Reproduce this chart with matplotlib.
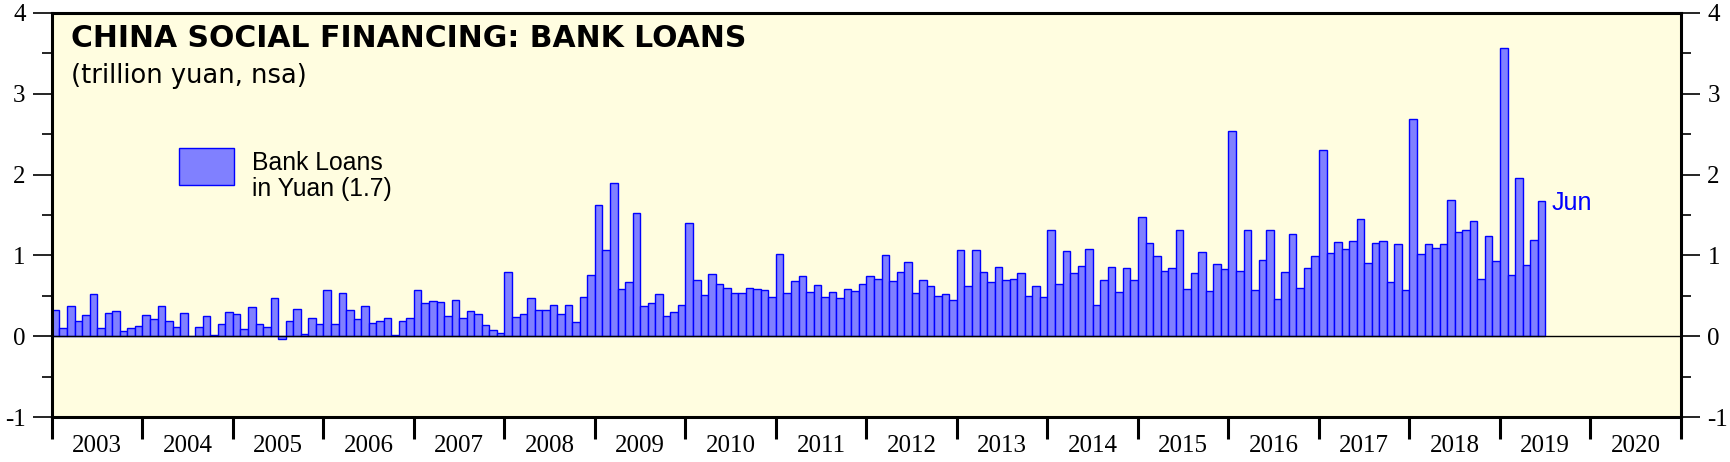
import numpy as np
import matplotlib
matplotlib.use('Agg')
import matplotlib.pyplot as plt
from matplotlib.patches import Rectangle
from matplotlib.ticker import MultipleLocator, FixedLocator, NullFormatter

# monthly bank loans, trillion yuan (nsa), Jan..Dec
loans_2003 = [0.33, 0.10, 0.37, 0.19, 0.26, 0.52, 0.10, 0.29, 0.31, 0.06, 0.10, 0.13]
loans_2004 = [0.26, 0.21, 0.37, 0.19, 0.11, 0.29, 0.00, 0.11, 0.25, 0.02, 0.15, 0.30]
loans_2005 = [0.28, 0.095, 0.36, 0.145, 0.11, 0.47, -0.04, 0.19, 0.34, 0.025, 0.22, 0.15]
loans_2006 = [0.57, 0.15, 0.54, 0.32, 0.21, 0.37, 0.16, 0.19, 0.22, 0.02, 0.19, 0.22]
loans_2007 = [0.57, 0.41, 0.44, 0.42, 0.25, 0.45, 0.23, 0.31, 0.28, 0.14, 0.08, 0.04]
loans_2008 = [0.80, 0.24, 0.28, 0.47, 0.32, 0.33, 0.38, 0.27, 0.38, 0.18, 0.48, 0.76]
loans_2009 = [1.62, 1.07, 1.89, 0.59, 0.665, 1.53, 0.37, 0.41, 0.52, 0.25, 0.30, 0.38]
loans_2010 = [1.40, 0.70, 0.51, 0.77, 0.65, 0.60, 0.53, 0.54, 0.60, 0.59, 0.57, 0.48]
loans_2011 = [1.02, 0.54, 0.68, 0.74, 0.55, 0.63, 0.49, 0.545, 0.47, 0.59, 0.56, 0.64]
loans_2012 = [0.74, 0.71, 1.01, 0.68, 0.79, 0.92, 0.54, 0.70, 0.62, 0.50, 0.52, 0.45]
loans_2013 = [1.07, 0.62, 1.07, 0.79, 0.665, 0.86, 0.70, 0.71, 0.785, 0.50, 0.62, 0.48]
loans_2014 = [1.32, 0.64, 1.05, 0.78, 0.87, 1.08, 0.385, 0.70, 0.855, 0.545, 0.85, 0.69]
loans_2015 = [1.475, 1.15, 0.995, 0.81, 0.85, 1.32, 0.59, 0.78, 1.04, 0.56, 0.89, 0.83]
loans_2016 = [2.54, 0.81, 1.32, 0.57, 0.94, 1.31, 0.455, 0.80, 1.26, 0.60, 0.84, 0.995]
loans_2017 = [2.31, 1.03, 1.16, 1.08, 1.18, 1.45, 0.91, 1.15, 1.18, 0.665, 1.14, 0.575]
loans_2018 = [2.69, 1.02, 1.145, 1.095, 1.14, 1.68, 1.285, 1.31, 1.43, 0.71, 1.235, 0.925]
loans_2019 = [3.57, 0.76, 1.96, 0.875, 1.19, 1.67]

loans = np.concatenate([loans_2003, loans_2004, loans_2005, loans_2006, loans_2007,
                        loans_2008, loans_2009, loans_2010, loans_2011, loans_2012,
                        loans_2013, loans_2014, loans_2015, loans_2016, loans_2017,
                        loans_2018, loans_2019])
first_year = 2003
last_year = 2020
year_labels = [str(y) for y in range(first_year, last_year + 1)]
month_pos = first_year + (np.arange(len(loans)) + 0.5) / 12.0

plt.rcParams['axes.unicode_minus'] = False
sans = 'Liberation Sans'
wide = 'DejaVu Sans'
serif = 'Liberation Serif'
fill_col = '#8080ff'
edge_col = '#0000ff'

fig = plt.figure(figsize=(17.31, 4.62), dpi=100)
ax = fig.add_axes([0.0300, 0.0974, 0.9411, 0.8745])
ax.set_facecolor('#fffde0')

ax.bar(month_pos, loans, width=1 / 12.0, color=fill_col, edgecolor=edge_col,
       linewidth=1.0, zorder=2)
ax.axhline(0, color='black', lw=1.0, zorder=3)

ax.set_xlim(first_year, last_year + 1)
ax.set_ylim(-1, 4)

# y axis, both sides
ax.yaxis.set_major_locator(MultipleLocator(1))
ax.yaxis.set_minor_locator(MultipleLocator(0.5))
ax.tick_params(axis='y', which='both', direction='out', left=True, right=True,
               labelleft=True, labelright=True, width=1.2, pad=5,
               labelsize=18, labelfontfamily=serif)
ax.tick_params(axis='y', which='major', length=14)
ax.tick_params(axis='y', which='minor', length=7)

# x axis: ticks at year boundaries, labels mid-year
ax.xaxis.set_major_locator(FixedLocator(np.arange(first_year, last_year + 2)))
ax.xaxis.set_major_formatter(NullFormatter())
ax.xaxis.set_minor_locator(FixedLocator(np.arange(first_year, last_year + 1) + 0.5))
ax.set_xticklabels(year_labels, minor=True)
ax.tick_params(axis='x', which='major', direction='out', length=16, width=2.2)
ax.tick_params(axis='x', which='minor', length=0, pad=13, labelsize=18,
               labelfontfamily=serif)

for sp in ax.spines.values():
    sp.set_linewidth(2.2)

ax.text(0.0117, 0.9166, 'CHINA SOCIAL FINANCING: BANK LOANS', transform=ax.transAxes,
        fontsize=21.5, fontweight='bold', family=wide, ha='left', va='baseline')
ax.text(0.0117, 0.826, '(trillion yuan, nsa)', transform=ax.transAxes,
        fontsize=18.5, family=wide, ha='left', va='baseline')

# legend key (baseline alignment of a two-line text uses the last line)
ax.add_patch(Rectangle((0.078, 0.5743), 0.0338, 0.0908, transform=ax.transAxes,
                       facecolor=fill_col, edgecolor=edge_col, lw=1.0, zorder=4))
ax.text(0.1229, 0.5465, 'Bank Loans\nin Yuan (1.7)', transform=ax.transAxes,
        fontsize=17.8, family=sans, ha='left', va='baseline', linespacing=1.14)

ax.annotate('Jun', xy=(month_pos[-1] + 1 / 24.0, loans[-1]), xytext=(4.8, -6.4),
            textcoords='offset points', color=edge_col, fontsize=18,
            family=sans, ha='left', va='baseline')

fig.savefig('out.png', dpi=100)
